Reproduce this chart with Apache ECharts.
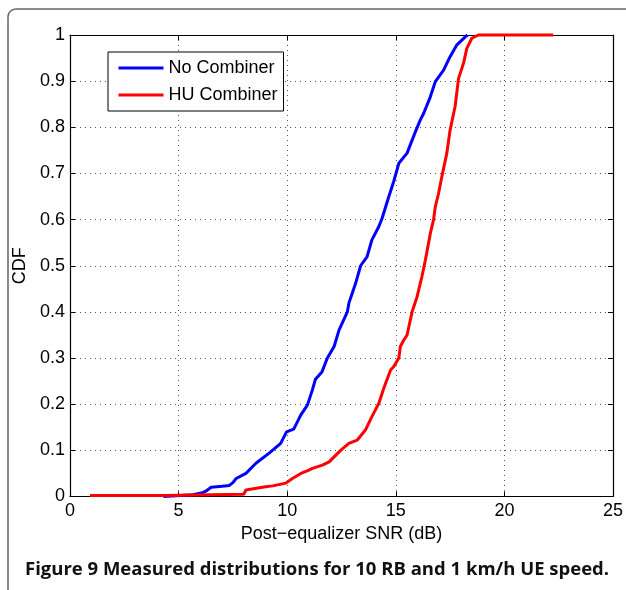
<!DOCTYPE html>
<html>
<head>
<meta charset="utf-8">
<script src="https://cdn.jsdelivr.net/npm/echarts@6/dist/echarts.min.js"></script>
<style>
  html, body { margin: 0; padding: 0; background: #fff; }
  #chart { width: 626px; height: 590px; }
</style>
</head>
<body>
<div id="chart"></div>
<script>
// values
var xTicks = [0, 5, 10, 15, 20, 25];
var yTicks = [0, 0.1, 0.2, 0.3, 0.4, 0.5, 0.6, 0.7, 0.8, 0.9, 1];

var noCombinerSnr = [4.3, 5.65, 6.1, 6.27, 6.5, 7.0, 7.34, 7.5, 7.65, 8.1, 8.56, 9.17, 9.7, 9.97, 10.3, 10.63, 10.93,
    11.16, 11.3, 11.6, 11.85, 12.16, 12.39, 12.77, 12.84, 13.15, 13.38, 13.68, 13.9, 14.22, 14.37, 14.68, 14.9,
    15.14, 15.52, 15.9, 16.13, 16.28, 16.59, 16.82, 17.2, 17.5, 17.8, 18.2, 18.3];
var noCombinerCdf = [0.0, 0.004, 0.008, 0.012, 0.02, 0.022, 0.024, 0.03, 0.039, 0.05, 0.072, 0.094, 0.115, 0.14, 0.146, 0.177, 0.198,
    0.231, 0.254, 0.27, 0.30, 0.325, 0.361, 0.40, 0.419, 0.462, 0.50, 0.52, 0.556, 0.585, 0.603, 0.65, 0.682,
    0.722, 0.744, 0.79, 0.816, 0.83, 0.866, 0.899, 0.924, 0.953, 0.978, 0.996, 1.0];

var huCombinerSnr = [0.92, 4.3, 4.35, 8.0, 8.1, 9.0, 9.33, 9.94, 10.24, 10.63, 11.0, 11.16, 11.62, 11.93, 12.46, 12.84,
    13.22, 13.6, 13.9, 14.22, 14.45, 14.76, 14.9, 15.14, 15.21, 15.37, 15.52, 15.75, 15.98, 16.2, 16.36, 16.59,
    16.74, 16.82, 16.97, 17.12, 17.35, 17.5, 17.73, 17.89, 18.12, 18.27, 18.5, 18.8, 22.25];
var huCombinerCdf = [0.002, 0.002, 0.005, 0.005, 0.014, 0.021, 0.023, 0.029, 0.039, 0.05, 0.057, 0.061, 0.068, 0.075, 0.1, 0.115,
    0.122, 0.144, 0.173, 0.202, 0.235, 0.274, 0.281, 0.30, 0.325, 0.339, 0.35, 0.40, 0.433, 0.476, 0.512, 0.57,
    0.60, 0.628, 0.657, 0.693, 0.744, 0.794, 0.845, 0.906, 0.939, 0.971, 0.993, 1.0, 1.0];

function zip(xs, ys) {
    return xs.map(function (x, i) { return [x, ys[i]]; });
}

var font = 'Liberation Sans, Arial, Helvetica, sans-serif';
var gridLine = { show: true, lineStyle: { color: '#555', width: 1, type: [1, 4] } };

var myChart = echarts.init(document.getElementById('chart'), null, { renderer: 'canvas' });

myChart.setOption({
    animation: false,
    backgroundColor: '#fff',
    grid: { left: 70, right: 11, top: 35, bottom: 93.5 },
    graphic: [
        {
            type: 'rect',
            z: -10,
            shape: { x: 8, y: 9, width: 700, height: 700, r: 8 },
            style: { fill: 'none', stroke: '#666', lineWidth: 1.5 }
        },
        {
            type: 'text',
            left: 25,
            top: 560,
            style: {
                text: 'Figure 9 Measured distributions for 10 RB and 1 km/h UE speed.',
                font: 'bold 18.5px "Open Sans", Lato, sans-serif',
                fill: '#111'
            }
        }
    ],
    legend: {
        orient: 'vertical',
        left: 108,
        top: 52,
        padding: [7, 6, 7, 9],
        itemWidth: 45,
        itemHeight: 14,
        itemGap: 9,
        borderColor: '#000',
        borderWidth: 1,
        backgroundColor: '#fff',
        itemStyle: { opacity: 0 },
        lineStyle: { width: 3 },
        textStyle: { fontFamily: font, fontSize: 18, color: '#000' },
        data: ['No Combiner', 'HU Combiner']
    },
    xAxis: [
        {
            type: 'value',
            min: 0, max: 25, interval: 5,
            name: 'Post\u2212equalizer SNR (dB)',
            nameLocation: 'middle',
            nameGap: 28,
            nameTextStyle: { fontFamily: font, fontSize: 18, color: '#000' },
            axisLine: { show: true, onZero: false, lineStyle: { color: '#000', width: 1.2 } },
            axisTick: { show: true, inside: true, length: 5, lineStyle: { color: '#000' } },
            axisLabel: { fontFamily: font, fontSize: 18, color: '#000', margin: 6 },
            splitLine: gridLine
        },
        {
            type: 'value',
            position: 'top',
            min: 0, max: 25, interval: 5,
            axisLine: { show: true, onZero: false, lineStyle: { color: '#000', width: 1.2 } },
            axisTick: { show: true, inside: true, length: 5, lineStyle: { color: '#000' } },
            axisLabel: { show: false },
            splitLine: { show: false }
        }
    ],
    yAxis: [
        {
            type: 'value',
            min: 0, max: 1, interval: 0.1,
            name: 'CDF',
            nameLocation: 'middle',
            nameGap: 40,
            nameTextStyle: { fontFamily: font, fontSize: 18, color: '#000' },
            axisLine: { show: true, onZero: false, lineStyle: { color: '#000', width: 1.2 } },
            axisTick: { show: true, inside: true, length: 5, lineStyle: { color: '#000' } },
            axisLabel: {
                fontFamily: font, fontSize: 18, color: '#000', margin: 5,
                formatter: function (v) { return String(Math.round(v * 10) / 10); }
            },
            splitLine: gridLine
        },
        {
            type: 'value',
            position: 'right',
            min: 0, max: 1, interval: 0.1,
            axisLine: { show: true, onZero: false, lineStyle: { color: '#000', width: 1.2 } },
            axisTick: { show: true, inside: true, length: 5, lineStyle: { color: '#000' } },
            axisLabel: { show: false },
            splitLine: { show: false }
        }
    ],
    series: [
        {
            name: 'No Combiner',
            type: 'line',
            symbol: 'none',
            clip: false,
            color: '#0000ff',
            lineStyle: { color: '#0000ff', width: 3 },
            data: zip(noCombinerSnr, noCombinerCdf)
        },
        {
            name: 'HU Combiner',
            type: 'line',
            symbol: 'none',
            clip: false,
            color: '#ff0000',
            lineStyle: { color: '#ff0000', width: 3 },
            data: zip(huCombinerSnr, huCombinerCdf)
        }
    ]
});
</script>
</body>
</html>
